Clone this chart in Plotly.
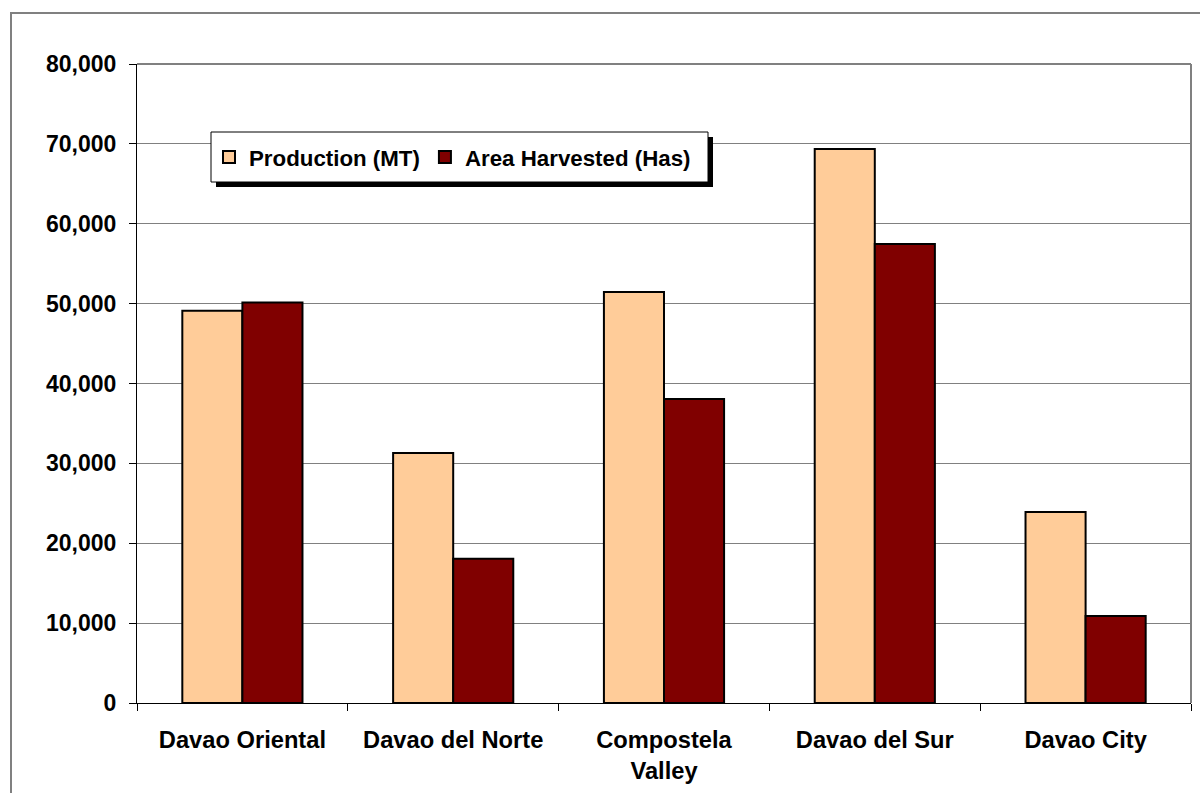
import plotly.graph_objects as go

categories = ["Davao Oriental", "Davao del Norte", "Compostela<br>Valley", "Davao del Sur", "Davao City"]
production = [49100, 31300, 51450, 69350, 23900]
area_harvested = [50150, 18050, 38050, 57450, 10900]
y_ticks = [0, 10000, 20000, 30000, 40000, 50000, 60000, 70000, 80000]
y_tick_labels = ["0", "10,000", "20,000", "30,000", "40,000", "50,000", "60,000", "70,000", "80,000"]

W, H = 1200, 793
L, R, T, B = 137, 1191, 64, 703
pw, ph = R - L, B - T

def px(x):
    return (x - L) / pw

def py(y):
    return (B - y) / ph

FONT = "Arial, 'Liberation Sans', sans-serif"

fig = go.Figure()
fig.add_trace(go.Bar(x=categories, y=production, name="Production (MT)",
                     marker=dict(color="#FFCC99", line=dict(color="black", width=2))))
fig.add_trace(go.Bar(x=categories, y=area_harvested, name="Area Harvested (Has)",
                     marker=dict(color="#800000", line=dict(color="black", width=2))))

shapes = [
    # outer chart border
    dict(type="rect", xref="paper", yref="paper", x0=px(11), x1=px(1215), y0=py(810), y1=py(13),
         line=dict(color="#808080", width=2), fillcolor="rgba(0,0,0,0)", layer="below"),
    # plot area top/right border
    dict(type="line", xref="paper", yref="paper", x0=0, x1=1, y0=1, y1=1,
         line=dict(color="#808080", width=2), layer="below"),
    dict(type="line", xref="paper", yref="paper", x0=1, x1=1, y0=0, y1=1,
         line=dict(color="#808080", width=2), layer="below"),
    # legend shadow
    dict(type="rect", xref="paper", yref="paper", x0=px(216), x1=px(713), y0=py(187), y1=py(137),
         line=dict(width=0), fillcolor="black", layer="above"),
    # legend box
    dict(type="rect", xref="paper", yref="paper", x0=px(211), x1=px(708), y0=py(182), y1=py(132),
         line=dict(color="black", width=1), fillcolor="white", layer="above"),
]

fig.update_layout(
    width=W, height=H,
    margin=dict(l=L, r=W - R, t=T, b=H - B, pad=0),
    paper_bgcolor="white", plot_bgcolor="white",
    font=dict(family=FONT, size=22, color="black"),
    barmode="group", bargap=0.43, bargroupgap=0,
    shapes=shapes,
    legend=dict(orientation="h", x=px(209), y=py(157), xanchor="left", yanchor="middle",
                bgcolor="rgba(0,0,0,0)", borderwidth=0,
                font=dict(family=FONT, size=22.3, color="black", weight="bold")),
    xaxis=dict(tickson="boundaries", ticks="outside", ticklen=7, tickcolor="black",
               showline=True, linecolor="black", linewidth=1, showgrid=False,
               ticklabelstandoff=16,
               tickfont=dict(family=FONT, size=23.7, color="black", weight="bold")),
    yaxis=dict(range=[0, 80000], tickvals=y_ticks, ticktext=y_tick_labels,
               ticks="outside", ticklen=7, tickcolor="black",
               showline=True, linecolor="black", linewidth=1,
               showgrid=True, gridcolor="#808080", gridwidth=1, zeroline=False,
               ticklabelstandoff=8,
               tickfont=dict(family=FONT, size=23, color="black", weight="bold")),
)

fig.write_html("out.html", config={"displayModeBar": False},
               post_script="document.body.style.margin='0';document.body.style.overflow='hidden';")
